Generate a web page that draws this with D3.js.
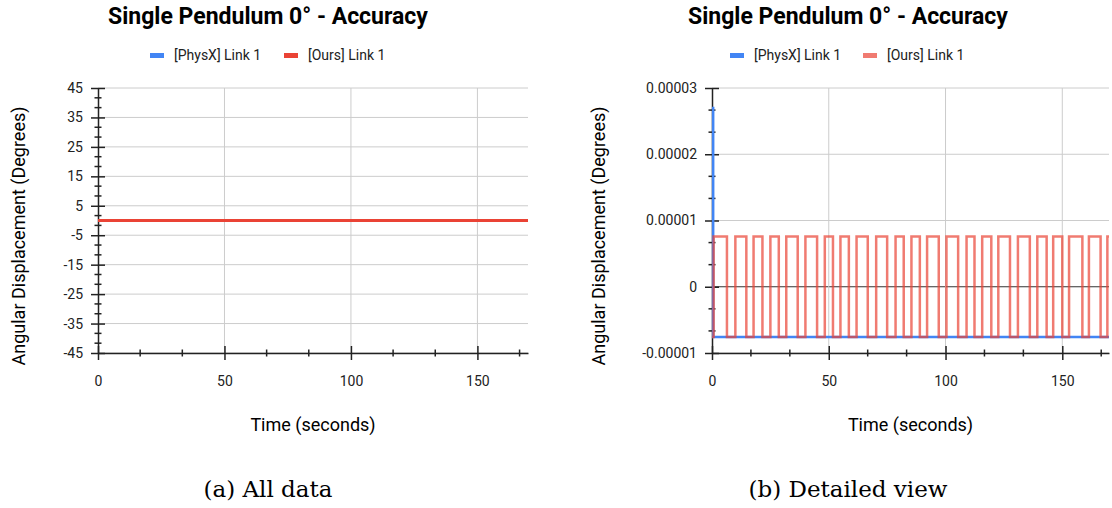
<!DOCTYPE html>
<html>
<head>
<meta charset="utf-8">
<script src="https://cdn.jsdelivr.net/npm/d3@7"></script>
<style>
  body { margin: 0; background: #fff; }
  text { font-family: Roboto, "Noto Sans", sans-serif; }
</style>
</head>
<body>
<svg id="Target" width="1112" height="508"></svg>
<script>
// series names / colours
var seriesNames = ["[PhysX] Link 1", "[Ours] Link 1"];
var chartTitle = "Single Pendulum 0\u00b0 - Accuracy";
var xTitle = "Time (seconds)";
var yTitle = "Angular Displacement (Degrees)";
var captions = ["(a) All data", "(b) Detailed view"];

// PhysX link 1 (degrees) - spike at start then flat
var physxTime = [0, 0.5, 170];
var physxValue = [0.000027, -0.0000076, -0.0000076];

// Ours link 1 (degrees) - step values, held until next time
var oursTime = [0, 0.7, 6.4, 10.0, 14.7, 17.8, 21.6, 25.0, 28.6, 31.8, 36.7, 40.0, 45.0,
    48.3, 51.8, 55.0, 58.6, 61.9, 66.7, 70.3, 75.0, 78.6, 82.1, 85.4, 89.0, 92.1, 97.1,
    100.4, 105.4, 109.0, 112.4, 115.7, 119.6, 122.6, 127.6, 131.0, 136.1, 139.3, 143.3,
    146.1, 150.0, 152.9, 158.6, 161.4, 166.4, 169.3, 170];
var oursValue = [-0.0000076, 0.0000076, -0.0000076, 0.0000076, -0.0000076, 0.0000076,
    -0.0000076, 0.0000076, -0.0000076, 0.0000076, -0.0000076, 0.0000076, -0.0000076,
    0.0000076, -0.0000076, 0.0000076, -0.0000076, 0.0000076, -0.0000076, 0.0000076,
    -0.0000076, 0.0000076, -0.0000076, 0.0000076, -0.0000076, 0.0000076, -0.0000076,
    0.0000076, -0.0000076, 0.0000076, -0.0000076, 0.0000076, -0.0000076, 0.0000076,
    -0.0000076, 0.0000076, -0.0000076, 0.0000076, -0.0000076, 0.0000076, -0.0000076,
    0.0000076, -0.0000076, 0.0000076, -0.0000076, 0.0000076, 0.0000076];

// axes
var xDomain = [0, 170];
var xTicks = [0, 50, 100, 150];
var xTickLabels = ["0", "50", "100", "150"];
var leftYTicks = [-45, -35, -25, -15, -5, 5, 15, 25, 35, 45];
var leftYLabels = ["-45", "-35", "-25", "-15", "-5", "5", "15", "25", "35", "45"];
var rightYTicks = [-0.00001, 0, 0.00001, 0.00002, 0.00003];
var rightYLabels = ["-0.00001", "0", "0.00001", "0.00002", "0.00003"];

var blue = "#4285f4";
var red = "#ea4335";

var svg = d3.select("#Target");

var physxData = physxTime.map(function (t, i) { return [t, physxValue[i]]; });
var oursData = oursTime.map(function (t, i) { return [t, oursValue[i]]; });

function drawPanel(p) {
    var g = svg.append("g");
    var x = d3.scaleLinear().domain(xDomain).range([p.left, p.right]);
    var y = d3.scaleLinear().domain([p.yTicks[0], p.yTicks[p.yTicks.length - 1]]).range([353, 88]);

    // grid lines
    g.selectAll("line.hgrid")
        .data(p.yTicks)
        .enter()
        .append("line")
        .attr("x1", p.left).attr("x2", p.right)
        .attr("y1", function (d) { return y(d); })
        .attr("y2", function (d) { return y(d); })
        .attr("stroke", function (d) { return d === 0 ? "#333" : "#ccc"; })
        .attr("stroke-width", 1);
    g.selectAll("line.vgrid")
        .data(xTicks.slice(1))
        .enter()
        .append("line")
        .attr("x1", function (d) { return x(d); })
        .attr("x2", function (d) { return x(d); })
        .attr("y1", 88).attr("y2", 353)
        .attr("stroke", "#ccc")
        .attr("stroke-width", 1);

    // y axis
    var yAxis = g.append("g")
        .attr("transform", "translate(" + p.left + ",0)")
        .call(d3.axisLeft(y)
            .tickValues(p.yTicks)
            .tickSizeInner(7)
            .tickSizeOuter(0)
            .tickPadding(8)
            .tickFormat(function (d, i) { return p.yLabels[i]; }));
    yAxis.selectAll(".tick line").attr("x1", 7).attr("stroke", "#222").attr("stroke-width", 1.5);
    yAxis.selectAll(".tick text")
        .attr("font-family", "Roboto").attr("font-size", 14).attr("fill", "#222");
    yAxis.select(".domain").attr("stroke", "#222").attr("stroke-width", 1.5);

    // y minor ticks (thirds)
    var yMinor = [];
    for (var i = 0; i < p.yTicks.length - 1; i++) {
        var step = (p.yTicks[i + 1] - p.yTicks[i]) / 3;
        yMinor.push(p.yTicks[i] + step, p.yTicks[i] + 2 * step);
    }
    g.selectAll("line.yminor")
        .data(yMinor)
        .enter()
        .append("line")
        .attr("x1", p.left - 3.5).attr("x2", p.left + 3.5)
        .attr("y1", function (d) { return y(d); })
        .attr("y2", function (d) { return y(d); })
        .attr("stroke", "#222")
        .attr("stroke-width", 1.5);

    // x axis
    var xAxis = g.append("g")
        .attr("transform", "translate(0,353)")
        .call(d3.axisBottom(x)
            .tickValues(xTicks)
            .tickSizeInner(7)
            .tickSizeOuter(0)
            .tickPadding(16)
            .tickFormat(function (d, i) { return xTickLabels[i]; }));
    xAxis.selectAll(".tick line").attr("y1", -7).attr("stroke", "#222").attr("stroke-width", 1.5);
    xAxis.selectAll(".tick text")
        .attr("font-family", "Roboto").attr("font-size", 14).attr("fill", "#222");
    xAxis.select(".domain").attr("stroke", "#222").attr("stroke-width", 1.5);

    var xMinor = [];
    for (var j = 0; j < xTicks.length; j++) {
        var xs = (xTicks[1] - xTicks[0]) / 3;
        [xTicks[j] + xs, xTicks[j] + 2 * xs].forEach(function (v) {
            if (v < xDomain[1]) xMinor.push(v);
        });
    }
    g.selectAll("line.xminor")
        .data(xMinor)
        .enter()
        .append("line")
        .attr("x1", function (d) { return x(d); })
        .attr("x2", function (d) { return x(d); })
        .attr("y1", 353 - 3.5).attr("y2", 353 + 3.5)
        .attr("stroke", "#222")
        .attr("stroke-width", 1.5);

    // series, drawn over the axes
    var line = d3.line()
        .x(function (d) { return x(d[0]); })
        .y(function (d) { return y(d[1]); })
        .curve(d3.curveStepAfter);
    g.append("path")
        .attr("d", line(physxData))
        .attr("fill", "none")
        .attr("stroke", blue)
        .attr("stroke-width", p.lineWidth);
    g.append("path")
        .attr("d", line(oursData))
        .attr("fill", "none")
        .attr("stroke", red)
        .attr("stroke-opacity", p.redOpacity)
        .attr("stroke-width", p.lineWidth);

    // title
    g.append("text")
        .attr("x", p.titleX).attr("y", 24)
        .attr("text-anchor", "middle")
        .attr("font-size", 23)
        .attr("font-weight", "bold")
        .attr("fill", "#000")
        .text(chartTitle);

    // legend
    var legendColors = [blue, red];
    var legendOpacity = [1, p.redOpacity];
    seriesNames.forEach(function (name, k) {
        g.append("rect")
            .attr("x", p.legendX[k]).attr("y", 53)
            .attr("width", 14).attr("height", 5)
            .attr("fill", legendColors[k])
            .attr("fill-opacity", legendOpacity[k]);
        g.append("text")
            .attr("x", p.legendX[k] + 24).attr("y", 60)
            .attr("font-size", 14)
            .attr("fill", "#222")
            .text(name);
    });

    // axis titles
    g.append("text")
        .attr("x", (p.left + p.right) / 2).attr("y", 431)
        .attr("text-anchor", "middle")
        .attr("font-size", 18)
        .attr("fill", "#000")
        .text(xTitle);
    g.append("text")
        .attr("transform", "translate(" + p.yTitleX + ",236) rotate(-90)")
        .attr("dy", "0.35em")
        .attr("text-anchor", "middle")
        .attr("font-size", 18)
        .attr("fill", "#000")
        .text(yTitle);

    // caption
    g.append("text")
        .attr("x", p.titleX).attr("y", 497)
        .attr("text-anchor", "middle")
        .style("font-family", "'DejaVu Serif', serif")
        .attr("font-size", 23)
        .attr("fill", "#000")
        .text(p.caption);
}

drawPanel({
    left: 98, right: 528,
    yTicks: leftYTicks, yLabels: leftYLabels,
    lineWidth: 3, redOpacity: 1,
    titleX: 268, legendX: [150, 284], yTitleX: 19,
    caption: captions[0]
});

drawPanel({
    left: 712, right: 1109,
    yTicks: rightYTicks, yLabels: rightYLabels,
    lineWidth: 2.5, redOpacity: 0.7,
    titleX: 848, legendX: [730, 863], yTitleX: 599,
    caption: captions[1]
});
</script>
</body>
</html>
